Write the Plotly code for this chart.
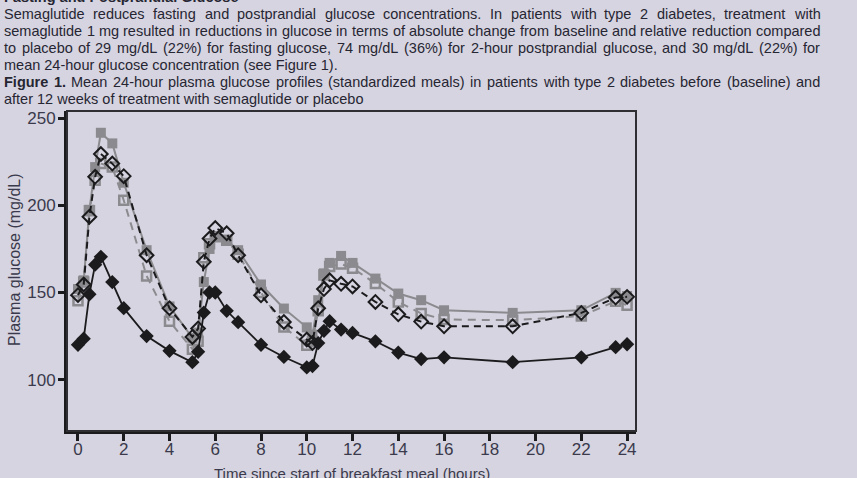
import plotly.graph_objects as go

# ---------------- data ----------------
hours = [0, 0.25, 0.5, 0.75, 1, 1.5, 2, 3, 4, 5, 5.25, 5.5, 5.75, 6, 6.5, 7, 8, 9,
         10, 10.25, 10.5, 10.75, 11, 11.5, 12, 13, 14, 15, 16, 19, 22, 23.5, 24]

placebo_baseline = [152, 157, 197.5, 222, 241.7, 235.6, 213, 174.3, 142, 124, 127, 156,
                    175, 182, 180, 174.3, 154.6, 140.8, 130, 125.8, 145.6, 161, 167, 171,
                    167, 158, 149.4, 145.6, 139.8, 138.3, 139.8, 149.8, 148]
placebo_week12 = [145.2, 156, 197, 214.5, 224, 222, 203, 159.5, 133.5, 117.5, 122, 170,
                  178, 182, 180, 172, 150, 130.2, 119.7, 122, 139.5, 160, 165, 166.3,
                  164, 155.2, 144.6, 138, 134.5, 134.1, 136.5, 145, 142.7]
sema_baseline = [148.5, 154.6, 193.5, 216.4, 229.5, 224, 216.8, 171.4, 141, 124.5, 129.3,
                 167.6, 181, 187, 184, 171.4, 148.4, 133.1, 123, 121, 141, 152, 157, 155,
                 153.5, 144.6, 137.5, 133.3, 130.6, 130.6, 138.3, 147.1, 147.5]
sema_week12 = [120, 123.5, 149, 166, 170.5, 156, 141, 125, 116.5, 110, 116, 138.5, 150,
               150, 139.5, 133, 120, 113, 107, 107.8, 121, 128, 133.5, 128.7, 126.8, 122,
               115.5, 111.8, 112.8, 110, 112.8, 118.6, 120.3]

x_ticks = list(range(0, 25, 2))
y_ticks = [100, 150, 200, 250]

x_title = "Time since start of breakfast meal (hours)"
y_title = "Plasma glucose (mg/dL)"
heading = "Fasting and Postprandial Glucose"
# (text, bold prefix, justified?)
paragraph = [
    ("Semaglutide reduces fasting and postprandial glucose concentrations. In patients with type 2 diabetes, treatment with", "", True),
    ("semaglutide 1 mg resulted in reductions in glucose in terms of absolute change from baseline and relative reduction compared", "", True),
    ("to placebo of 29 mg/dL (22%) for fasting glucose, 74 mg/dL (36%) for 2-hour postprandial glucose, and 30 mg/dL (22%) for", "", True),
    ("mean 24-hour glucose concentration (see Figure 1).", "", False),
    ("Mean 24-hour plasma glucose profiles (standardized meals) in patients with type 2 diabetes before (baseline) and", "Figure 1.", True),
    ("after 12 weeks of treatment with semaglutide or placebo", "", False),
]

# ---------------- styling ----------------
BG = "#d6d4e0"
GRAY = "#8b8b8f"
BLACK = "#1b1b1d"
TXT = "#262633"
AXT = "#3a3a4c"
FONT = "Liberation Sans, Arial, sans-serif"
PSIZE = 14.5

W, H = 857, 478
L, R, T, B = 67, 221, 111, 47
PW, PH = W - L - R, H - T - B
TEXT_LEFT, TEXT_RIGHT = 2, 818

# approximate Arial/Liberation Sans advance widths (1/1000 em)
_W = {' ': 278, 'a': 556, 'b': 556, 'c': 500, 'd': 556, 'e': 556, 'f': 278, 'g': 556,
      'h': 556, 'i': 222, 'j': 222, 'k': 500, 'l': 222, 'm': 833, 'n': 556, 'o': 556,
      'p': 556, 'q': 556, 'r': 333, 's': 500, 't': 278, 'u': 556, 'v': 500, 'w': 722,
      'x': 500, 'y': 500, 'z': 500, 'A': 667, 'B': 667, 'C': 722, 'D': 722, 'E': 667,
      'F': 611, 'G': 778, 'H': 722, 'I': 278, 'J': 500, 'K': 667, 'L': 556, 'M': 833,
      'N': 722, 'O': 778, 'P': 667, 'Q': 778, 'R': 722, 'S': 667, 'T': 611, 'U': 722,
      'V': 667, 'W': 944, 'X': 667, 'Y': 667, 'Z': 611, '.': 278, ',': 278, '(': 333,
      ')': 333, '-': 333, '%': 889, '/': 278, ':': 278}
_BW = dict(_W)
_BW.update({'g': 611, 'u': 611, 'r': 389, 'i': 278, 'F': 611})


def text_w(s, size, bold=False):
    tab = _BW if bold else _W
    return sum(tab.get(c, 556) for c in s) * size / 1000.0


def px_x(px):
    return (px - L) / PW


def px_y(py):
    return (H - B - py) / PH


fig = go.Figure()

fig.add_trace(go.Scatter(
    x=hours, y=placebo_baseline, mode="lines+markers", name="Placebo baseline",
    line=dict(color=GRAY, width=2),
    marker=dict(symbol="square", size=10, color=GRAY)))
fig.add_trace(go.Scatter(
    x=hours, y=placebo_week12, mode="lines+markers", name="Placebo week 12",
    line=dict(color=GRAY, width=2, dash="8px,6px"),
    marker=dict(symbol="square-open", size=9, color=GRAY, line=dict(width=2.5, color=GRAY))))
fig.add_trace(go.Scatter(
    x=hours, y=sema_baseline, mode="lines+markers", name="Semaglutide baseline",
    line=dict(color=BLACK, width=2, dash="7px,5px"),
    marker=dict(symbol="diamond-open", size=10.5, color=BLACK, line=dict(width=2, color=BLACK))))
fig.add_trace(go.Scatter(
    x=hours, y=sema_week12, mode="lines+markers", name="Semaglutide week 12",
    line=dict(color=BLACK, width=1.8),
    marker=dict(symbol="diamond", size=11, color=BLACK)))

annotations = []


def add_text(txt, xpx, ypx, size=PSIZE, bold=False):
    annotations.append(dict(text=("<b>%s</b>" % txt) if bold else txt,
                            x=px_x(xpx), y=px_y(ypx), xref="paper", yref="paper",
                            xanchor="left", yanchor="middle", showarrow=False,
                            font=dict(family=FONT, size=size, color=TXT)))


add_text(heading, TEXT_LEFT, -3, bold=True)
for i, (line, prefix, justify) in enumerate(paragraph):
    ypx = 14 + 17 * i
    words = [(w, False) for w in line.split(" ")]
    if prefix:
        words = [(prefix.split(" ")[0], True), (prefix.split(" ")[1], True)] + words
    if not justify:
        if prefix:
            add_text(prefix, TEXT_LEFT, ypx, bold=True)
            add_text(line, TEXT_LEFT + text_w(prefix + " ", PSIZE, True), ypx)
        else:
            add_text(line, TEXT_LEFT, ypx)
        continue
    widths = [text_w(w, PSIZE, b) for w, b in words]
    gap = (TEXT_RIGHT - TEXT_LEFT - sum(widths)) / (len(words) - 1)
    xcur = TEXT_LEFT
    for (w, b), wd in zip(words, widths):
        add_text(w, xcur, ypx, bold=b)
        xcur += wd + gap

annotations.append(dict(text=x_title, x=px_x(352), y=px_y(473), xref="paper", yref="paper",
                        xanchor="center", yanchor="middle", showarrow=False,
                        font=dict(family=FONT, size=15, color=AXT)))
annotations.append(dict(text=y_title, x=px_x(14), y=px_y(260), xref="paper", yref="paper",
                        xanchor="center", yanchor="middle", showarrow=False, textangle=-90,
                        font=dict(family=FONT, size=16, color=AXT)))

fig.update_layout(
    width=W, height=H,
    margin=dict(l=L, r=R, t=T, b=B, autoexpand=False),
    paper_bgcolor=BG, plot_bgcolor=BG,
    showlegend=False,
    annotations=annotations,
    shapes=[dict(type="rect", xref="paper", yref="paper", x0=0, x1=1, y0=0, y1=1,
                 line=dict(color="#2e2e33", width=2))],
    xaxis=dict(range=[-0.48, 24.39], tickvals=x_ticks, ticks="outside", ticklen=7,
               tickwidth=2.5, tickcolor=BLACK, showgrid=False, zeroline=False,
               showline=True, linecolor=BLACK, linewidth=3, automargin=False,
               ticklabelstandoff=-6,
               tickfont=dict(family=FONT, size=17, color=AXT)),
    yaxis=dict(range=[70.5, 254.2], tickvals=y_ticks, ticks="outside", ticklen=6,
               tickwidth=2.5, tickcolor=BLACK, showgrid=False, zeroline=False,
               showline=True, linecolor=BLACK, linewidth=3, automargin=False,
               ticklabelstandoff=-1,
               tickfont=dict(family=FONT, size=17, color=AXT)),
)

fig.write_html("out.html", config={"displayModeBar": False},
               post_script="document.body.style.margin='0';document.body.style.background='%s';" % BG)
